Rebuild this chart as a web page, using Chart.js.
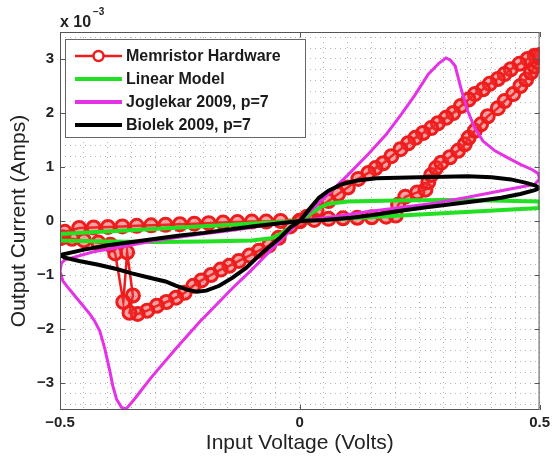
<!DOCTYPE html>
<html>
<head>
<meta charset="utf-8">
<script src="https://cdn.jsdelivr.net/npm/chart.js@4.4.0/dist/chart.umd.min.js"></script>
<style>
html,body{margin:0;padding:0;background:#fff;}
#wrap{width:554px;height:462px;}
</style>
</head>
<body>
<div id="wrap"><canvas id="c" width="554" height="462"></canvas></div>
<script>
// Series names
const seriesNames = ["Memristor Hardware", "Linear Model", "Joglekar 2009, p=7", "Biolek 2009, p=7"];
const xTickValues = [-0.5, 0, 0.5];
const xTickLabels = ["−0.5", "0", "0.5"];
const yTickValues = [-3, -2, -1, 0, 1, 2, 3];
const yTickLabels = ["−3", "−2", "−1", "0", "1", "2", "3"];

// Memristor hardware (V, current in 1e-3 A)
const hwV = [0,0.03,0.06,0.09,0.12,0.15,0.18,0.2,0.205,0.22,0.245,0.262,
  0.268,0.274,0.284,0.295,0.313,0.33,0.344,0.352,0.365,0.378,0.392,0.413,0.427,0.445,0.46,0.472,0.482,0.49,0.496,0.5,0.502,
  0.495,0.49,0.475,0.458,0.44,0.427,0.413,0.396,0.382,0.365,0.352,0.336,0.32,0.305,0.288,0.274,0.257,0.241,0.226,0.21,0.191,0.174,0.158,0.143,0.122,0.1,0.08,0.06,0.035,0.015,0,
  -0.02,-0.044,-0.064,-0.085,-0.105,-0.127,-0.147,-0.165,-0.185,-0.205,-0.222,-0.24,-0.258,-0.278,-0.298,-0.318,-0.338,-0.355,
  -0.348,-0.36,-0.368,-0.385,-0.395,-0.42,-0.45,-0.475,-0.495,-0.5,
  -0.49,-0.46,-0.43,-0.4,-0.37,-0.34,-0.31,-0.28,-0.25,-0.22,-0.19,-0.16,-0.13,-0.1,-0.07,-0.04,0];
const hwI = [0,0.02,0.04,0.05,0.06,0.07,0.08,0.1,0.3,0.45,0.53,0.58,
  0.72,0.85,0.98,1.08,1.18,1.3,1.42,1.54,1.67,1.79,1.94,2.09,2.22,2.35,2.5,2.62,2.75,2.86,2.95,3.02,3.08,
  3.06,3.06,3.0,2.91,2.81,2.72,2.63,2.54,2.44,2.35,2.25,2.13,2.0,1.91,1.81,1.72,1.63,1.54,1.44,1.33,1.2,1.07,0.98,0.89,0.78,0.62,0.5,0.37,0.2,0.08,0,
  -0.1,-0.31,-0.45,-0.55,-0.64,-0.74,-0.83,-0.9,-1.0,-1.1,-1.2,-1.33,-1.42,-1.5,-1.57,-1.66,-1.72,-1.7,
  -1.38,-0.58,-1.5,-0.6,-0.44,-0.4,-0.36,-0.33,-0.3,-0.32,
  -0.2,-0.13,-0.12,-0.11,-0.1,-0.09,-0.08,-0.07,-0.06,-0.05,-0.04,-0.03,-0.02,-0.01,-0.01,0,0];

// Linear model
const linV = [0,0.5,0.5,0.4,0.3,0.2,0.1,0.06,0.04,0.02,0,-0.02,-0.04,-0.06,-0.1,-0.2,-0.3,-0.4,-0.5,-0.5,0];
const linI = [0,0.24,0.36,0.38,0.39,0.38,0.36,0.32,0.24,0.12,0,-0.12,-0.24,-0.32,-0.36,-0.38,-0.39,-0.38,-0.36,-0.24,0];

// Joglekar 2009, p=7
const jogV = [0,0.05,0.1,0.143,0.18,0.212,0.24,0.268,0.29,0.305,0.314,0.324,0.336,0.35,0.365,0.382,0.407,0.434,0.46,0.485,0.497,0.5,0.49,0.42,0.35,0.28,0.21,0.14,0.07,0,
  -0.05,-0.1,-0.141,-0.21,-0.26,-0.31,-0.345,-0.362,-0.372,-0.382,-0.39,-0.396,-0.407,-0.417,-0.428,-0.438,-0.452,-0.465,-0.48,-0.494,-0.5,-0.497,-0.49,-0.43,-0.36,-0.3,-0.22,-0.14,-0.07,0];
const jogI = [0,0.42,0.85,1.24,1.6,1.98,2.33,2.72,2.92,3.02,2.98,2.87,2.46,2.04,1.72,1.48,1.3,1.17,1.05,0.95,0.88,0.78,0.68,0.56,0.44,0.33,0.25,0.17,0.08,0,
  -0.45,-0.9,-1.25,-1.88,-2.38,-2.9,-3.3,-3.48,-3.45,-3.3,-3.05,-2.78,-2.35,-2.04,-1.85,-1.72,-1.57,-1.43,-1.27,-1.11,-0.93,-0.78,-0.72,-0.57,-0.46,-0.36,-0.26,-0.17,-0.08,0];

// Biolek 2009, p=7
const bioV = [0,0.02,0.04,0.06,0.087,0.12,0.16,0.205,0.25,0.3,0.35,0.4,0.44,0.47,0.49,0.5,
  0.49,0.46,0.42,0.37,0.315,0.26,0.21,0.16,0.108,0.05,0,
  -0.02,-0.04,-0.08,-0.112,-0.14,-0.168,-0.195,-0.215,-0.235,-0.26,-0.28,-0.313,-0.35,-0.382,-0.42,-0.46,-0.49,-0.5,
  -0.45,-0.4,-0.35,-0.3,-0.25,-0.2,-0.15,-0.1,-0.05,0];
const bioI = [0,0.22,0.43,0.56,0.68,0.75,0.79,0.8,0.81,0.82,0.83,0.81,0.77,0.71,0.66,0.61,
  0.57,0.5,0.43,0.37,0.31,0.25,0.19,0.12,0.06,0.02,0,
  -0.12,-0.3,-0.6,-0.87,-1.05,-1.2,-1.29,-1.31,-1.27,-1.19,-1.12,-1.05,-0.97,-0.89,-0.81,-0.74,-0.68,-0.63,
  -0.53,-0.45,-0.39,-0.33,-0.27,-0.22,-0.16,-0.1,-0.05,0];

const colors = ["#ee1c1c", "#22e022", "#e632e6", "#000000"];
const widths = [2.5, 4, 3, 4];

// grid positions (minor grid, as in the original: every 0.05 V and every 0.2 mA)
const gridX = [];
for (let k = -10; k <= 10; k++) gridX.push(Math.round(k * 5) / 100);
const gridY = [];
for (let k = -17; k <= 17; k++) gridY.push(Math.round(k * 2) / 10);

const pts = (xs, ys) => xs.map((x, i) => ({x: x, y: ys[i]}));
const FONT = "'Liberation Sans', Arial, sans-serif";
const near = (v, t) => Math.abs(v - t) < 1e-6;
const labelFor = (v, vals, labs) => { const i = vals.findIndex(t => near(v, t)); return i >= 0 ? labs[i] : ''; };

const boxPlugin = {
  id: 'boxPlugin',
  afterDraw(chart) {
    const ctx = chart.ctx;
    const a = chart.chartArea;
    const xs = chart.scales.x, ys = chart.scales.y;
    ctx.save();
    ctx.strokeStyle = '#555';
    ctx.lineWidth = 1;
    ctx.setLineDash([]);
    ctx.strokeRect(a.left + 0.5, a.top + 0.5, a.right - a.left - 1, a.bottom - a.top - 1);
    ctx.beginPath();
    xTickValues.forEach(v => {
      const px = Math.round(xs.getPixelForValue(v)) + 0.5;
      ctx.moveTo(px, a.bottom); ctx.lineTo(px, a.bottom - 5);
      ctx.moveTo(px, a.top); ctx.lineTo(px, a.top + 5);
    });
    yTickValues.forEach(v => {
      const py = Math.round(ys.getPixelForValue(v)) + 0.5;
      ctx.moveTo(a.left, py); ctx.lineTo(a.left + 5, py);
      ctx.moveTo(a.right, py); ctx.lineTo(a.right - 5, py);
    });
    ctx.stroke();

    ctx.fillStyle = '#222';
    ctx.font = "bold 16px " + FONT;
    ctx.textAlign = 'left';
    ctx.textBaseline = 'alphabetic';
    ctx.fillText("x 10", 60, 27);
    ctx.font = "bold 10px " + FONT;
    ctx.fillText("−3", 93, 15);

    const lx = 65, ly = 39, lw = 240, lh = 98;
    ctx.fillStyle = '#fff';
    ctx.fillRect(lx, ly, lw, lh);
    ctx.strokeStyle = '#666';
    ctx.lineWidth = 1;
    ctx.strokeRect(lx + 0.5, ly + 0.5, lw, lh);
    const rows = [56, 79, 102, 125];
    ctx.font = "bold 16px " + FONT;
    ctx.textBaseline = 'middle';
    seriesNames.forEach((name, i) => {
      const y = rows[i];
      ctx.strokeStyle = colors[i];
      ctx.lineWidth = i === 0 ? 2.5 : 4;
      ctx.beginPath();
      ctx.moveTo(75, y); ctx.lineTo(122, y);
      ctx.stroke();
      if (i === 0) {
        ctx.beginPath();
        ctx.arc(98.5, y, 5, 0, Math.PI * 2);
        ctx.fillStyle = '#fff';
        ctx.fill();
        ctx.lineWidth = 2.5;
        ctx.stroke();
      }
      ctx.fillStyle = '#1a1a1a';
      ctx.fillText(name, 126, y + 1);
    });
    ctx.restore();
  }
};

new Chart(document.getElementById('c'), {
  type: 'scatter',
  data: {
    datasets: [
      {label: seriesNames[0], data: pts(hwV, hwI), showLine: true, borderColor: colors[0], borderWidth: widths[0],
       pointRadius: 6.5, pointBorderWidth: 3, pointBorderColor: colors[0], pointBackgroundColor: 'rgba(240,50,50,0.45)', order: 4},
      {label: seriesNames[1], data: pts(linV, linI), showLine: true, borderColor: colors[1], borderWidth: widths[1], pointRadius: 0, order: 3},
      {label: seriesNames[2], data: pts(jogV, jogI), showLine: true, borderColor: colors[2], borderWidth: widths[2], pointRadius: 0, order: 2},
      {label: seriesNames[3], data: pts(bioV, bioI), showLine: true, borderColor: colors[3], borderWidth: widths[3], pointRadius: 0, order: 1}
    ]
  },
  options: {
    responsive: false,
    animation: false,
    events: [],
    devicePixelRatio: 1,
    layout: {padding: {top: 32, right: 12, left: 0, bottom: 0}},
    plugins: {legend: {display: false}, tooltip: {enabled: false}},
    scales: {
      x: {
        type: 'linear', min: -0.5, max: 0.5,
        afterFit: s => { s.height = 52; },
        afterBuildTicks: s => { s.ticks = gridX.map(v => ({value: v})); },
        ticks: {
          autoSkip: false, maxRotation: 0, padding: 4,
          color: '#222', font: {family: FONT, size: 15, weight: 'bold'},
          callback: v => labelFor(v, xTickValues, xTickLabels)
        },
        grid: {color: '#b4b4b4', lineWidth: 1, drawTicks: false},
        border: {display: false, dash: [1, 4]},
        title: {display: true, text: 'Input Voltage (Volts)', color: '#222', font: {family: FONT, size: 21}, padding: {top: 0, bottom: 6}}
      },
      y: {
        type: 'linear', min: -3.5, max: 3.5,
        afterFit: s => { s.width = 60; },
        afterBuildTicks: s => { s.ticks = gridY.map(v => ({value: v})); },
        ticks: {
          autoSkip: false, padding: 6,
          color: '#222', font: {family: FONT, size: 15, weight: 'bold'},
          callback: v => labelFor(v, yTickValues, yTickLabels)
        },
        grid: {color: '#b4b4b4', lineWidth: 1, drawTicks: false},
        border: {display: false, dash: [1, 4]},
        title: {display: true, text: 'Output Current (Amps)', color: '#222', font: {family: FONT, size: 21}, padding: {top: 7, bottom: 0}}
      }
    }
  },
  plugins: [boxPlugin]
});
</script>
</body>
</html>
